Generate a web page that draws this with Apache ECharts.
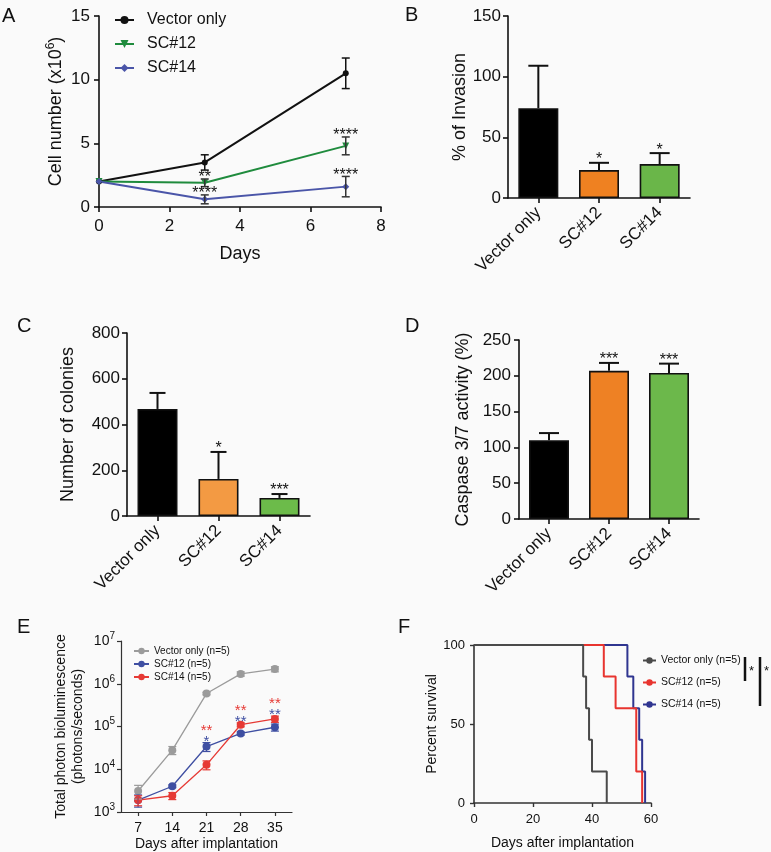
<!DOCTYPE html>
<html><head><meta charset="utf-8">
<script src="https://cdn.jsdelivr.net/npm/echarts@6/dist/echarts.min.js"></script>
<style>html,body{margin:0;padding:0;background:#fafafa}#c{width:771px;height:852px}</style>
</head><body><div id="c"></div>
<script>
// ---------- Panel A: cell growth ----------
const daysA = [0, 3, 7];
const cellVector = [2.0, 3.5, 10.5];
const cellVectorErr = [0, 0.6, 1.2];
const cellSC12 = [2.0, 1.9, 4.8];
const cellSC12Err = [0, 0.3, 0.7];
const cellSC14 = [2.0, 0.6, 1.6];
const cellSC14Err = [0, 0.35, 0.8];
const starsA12 = ['', '**', '****'];
const starsA14 = ['', '****', '****'];
// ---------- Panels B, C, D: bars ----------
const groups = ['Vector only', 'SC#12', 'SC#14'];
const invasion = [74, 23, 28];
const invasionErr = [35, 6, 9];
const invasionStars = ['', '*', '*'];
const colonies = [468, 162, 79];
const coloniesErr = [70, 118, 17];
const coloniesStars = ['', '*', '***'];
const caspase = [110, 207, 204];
const caspaseErr = [10, 11, 13];
const caspaseStars = ['', '***', '***'];
// ---------- Panel E: bioluminescence ----------
const daysE = ['7', '14', '21', '28', '35'];
const bioVector = [3100, 28000, 590000, 1700000, 2200000];
const bioVectorErr = [1100, 6000, 40000, 200000, 300000];
const bioSC12 = [1900, 4000, 34000, 69000, 96000];
const bioSC12Err = [600, 300, 8000, 6000, 18000];
const bioSC14 = [1900, 2400, 12700, 110000, 150000];
const bioSC14Err = [500, 450, 3000, 12000, 25000];
const starsE12 = ['', '', '*', '**', '**'];
const starsE14 = ['', '', '**', '**', '**'];
// ---------- Panel F: survival ----------
const survDaysVector = [0, 37, 38, 39, 40, 45];
const survVector = [100, 80, 60, 40, 20, 0];
const survDaysSC12 = [0, 44, 48, 55, 57];
const survSC12 = [100, 80, 60, 20, 0];
const survDaysSC14 = [0, 52, 54, 56, 57, 58];
const survSC14 = [100, 80, 60, 40, 20, 0];

const FONT = '"Liberation Sans", Arial, Helvetica, sans-serif';
const INK = '#111';
const barColorsB = ['#000000', '#ef8121', '#6ab649'];
const barColorsC = ['#000000', '#f39a43', '#6cbb4a'];
const barColorsD = ['#000000', '#ee8124', '#6cb84b'];

function axisStyle(fs, margin) {
  return {
    axisLine: {show: true, onZero: false, lineStyle: {color: INK, width: 1.6}},
    axisTick: {show: true, length: 5, lineStyle: {color: INK, width: 1.6}},
    splitLine: {show: false},
    axisLabel: {color: INK, fontSize: fs, fontFamily: FONT, margin: margin},
    nameTextStyle: {color: INK, fontSize: fs, fontFamily: FONT}
  };
}
function mk(base, extra) { return Object.assign({}, base, extra); }

function errBars(o) {
  return {
    type: 'custom', xAxisIndex: o.g, yAxisIndex: o.g, z: o.z || 6, silent: true,
    data: o.xs.map((x, i) => [x, o.ys[i], o.errs[i]]),
    renderItem: function (params, api) {
      const i = params.dataIndex;
      const x = api.value(0), y = api.value(1), e = api.value(2);
      const pt = api.coord([x, y + e]);
      const pb = api.coord([x, o.oneSided ? y : y - e]);
      const st = {stroke: o.color, lineWidth: o.lw || 1.5};
      const ch = [];
      if (e > 0) {
        ch.push({type: 'line', shape: {x1: pt[0], y1: pt[1], x2: pb[0], y2: pb[1]}, style: st});
        ch.push({type: 'line', shape: {x1: pt[0] - o.cap / 2, y1: pt[1], x2: pt[0] + o.cap / 2, y2: pt[1]}, style: st});
        if (!o.oneSided) ch.push({type: 'line', shape: {x1: pb[0] - o.cap / 2, y1: pb[1], x2: pb[0] + o.cap / 2, y2: pb[1]}, style: st});
      }
      if (o.stars && o.stars[i]) {
        ch.push({type: 'text', x: pt[0], y: pt[1] - o.starGap,
          style: {text: o.stars[i], align: 'center', verticalAlign: 'middle', fill: o.starColor || INK,
            font: (o.starSize || 16) + 'px ' + FONT}});
      }
      return {type: 'group', children: ch};
    }
  };
}

const grids = [
  {left: 99, top: 16, width: 282, height: 191},
  {left: 508, top: 16, width: 182, height: 182},
  {left: 127, top: 333, width: 183, height: 183},
  {left: 519, top: 340, width: 180, height: 179},
  {left: 121, top: 641, width: 171, height: 172},
  {left: 474, top: 645, width: 177, height: 158}
];

function catAxis(g) {
  return mk(axisStyle(17, 12), {gridIndex: g, type: 'category', data: groups,
    axisTick: {show: true, alignWithLabel: true, length: 5, lineStyle: {color: INK, width: 1.6}},
    axisLabel: {color: INK, fontSize: 17, fontFamily: FONT, rotate: 45, margin: 12, interval: 0}});
}

const xAxes = [
  mk(axisStyle(17, 11), {gridIndex: 0, type: 'value', min: 0, max: 8, interval: 2, name: 'Days', nameLocation: 'middle', nameGap: 38,
    nameTextStyle: {color: INK, fontSize: 18, fontFamily: FONT}}),
  catAxis(1), catAxis(2), catAxis(3),
  mk(axisStyle(14, 9), {gridIndex: 4, type: 'category', data: daysE, boundaryGap: true,
    axisTick: {show: true, alignWithLabel: true, length: 4, lineStyle: {color: '#333', width: 1.2}},
    axisLine: {show: true, lineStyle: {color: '#333', width: 1.2}},
    axisLabel: {color: INK, fontSize: 14, fontFamily: FONT, margin: 9, interval: 0},
    name: 'Days after implantation', nameLocation: 'middle', nameGap: 25, nameTextStyle: {color: INK, fontSize: 14, fontFamily: FONT}}),
  mk(axisStyle(13, 10), {gridIndex: 5, type: 'value', min: 0, max: 60, interval: 20,
    axisLine: {show: true, lineStyle: {color: '#333', width: 1.6}},
    axisTick: {show: true, length: 4, lineStyle: {color: '#333', width: 1.4}},
    name: 'Days after implantation', nameLocation: 'middle', nameGap: 33, nameTextStyle: {color: INK, fontSize: 14, fontFamily: FONT}})
];

const yAxes = [
  mk(axisStyle(17, 9), {gridIndex: 0, type: 'value', min: 0, max: 15, interval: 5,
    name: 'Cell number (x10{s|6})', nameLocation: 'middle', nameGap: 32,
    nameTextStyle: {color: INK, fontSize: 18, fontFamily: FONT, lineHeight: 22, rich: {s: {fontSize: 12, fontFamily: FONT, color: INK, verticalAlign: 'top'}}}}),
  mk(axisStyle(17, 7), {gridIndex: 1, type: 'value', min: 0, max: 150, interval: 50,
    name: '% of Invasion', nameLocation: 'middle', nameGap: 37, nameTextStyle: {color: INK, fontSize: 18, fontFamily: FONT}}),
  mk(axisStyle(17, 7), {gridIndex: 2, type: 'value', min: 0, max: 800, interval: 200,
    name: 'Number of colonies', nameLocation: 'middle', nameGap: 50, nameTextStyle: {color: INK, fontSize: 18, fontFamily: FONT}}),
  mk(axisStyle(17, 8), {gridIndex: 3, type: 'value', min: 0, max: 250, interval: 50,
    name: 'Caspase 3/7 activity (%)', nameLocation: 'middle', nameGap: 47, nameTextStyle: {color: INK, fontSize: 18, fontFamily: FONT}}),
  mk(axisStyle(14, 6), {gridIndex: 4, type: 'log', logBase: 10, min: 1000, max: 10000000,
    axisLine: {show: true, lineStyle: {color: '#333', width: 1.2}},
    axisTick: {show: true, length: 4, lineStyle: {color: '#333', width: 1.2}},
    axisLabel: {color: INK, fontSize: 14, fontFamily: FONT, margin: 6,
      formatter: v => '{b|10}{s|' + Math.round(Math.log10(v)) + '}',
      rich: {b: {fontSize: 14, fontFamily: FONT, color: INK, lineHeight: 20}, s: {fontSize: 10, fontFamily: FONT, color: INK, verticalAlign: 'top'}}},
    name: 'Total photon bioluminescence\n(photons/seconds)', nameLocation: 'middle', nameGap: 34,
    nameTextStyle: {color: INK, fontSize: 14, fontFamily: FONT, lineHeight: 17}}),
  mk(axisStyle(13, 9), {gridIndex: 5, type: 'value', min: 0, max: 100, interval: 50,
    axisLine: {show: true, lineStyle: {color: '#333', width: 1.6}},
    axisTick: {show: true, length: 4, lineStyle: {color: '#333', width: 1.4}},
    name: 'Percent survival', nameLocation: 'middle', nameGap: 29, nameTextStyle: {color: INK, fontSize: 14, fontFamily: FONT}})
];

function lineA(name, ys, color, symbol, rot, size) {
  return {type: 'line', name: name, xAxisIndex: 0, yAxisIndex: 0, data: daysA.map((d, i) => [d, ys[i]]),
    symbol: symbol, symbolRotate: rot, symbolSize: size, showSymbol: true, z: 4,
    lineStyle: {color: color, width: 2}, itemStyle: {color: color}};
}
function barS(g, vals, colors) {
  return {type: 'bar', xAxisIndex: g, yAxisIndex: g, barWidth: 40, z: 3,
    data: vals.map((v, i) => ({value: v, itemStyle: {color: colors[i], borderColor: INK, borderWidth: 1.6}}))};
}
function lineE(name, ys, color) {
  return {type: 'line', name: name, xAxisIndex: 4, yAxisIndex: 4, data: ys, symbol: 'circle', symbolSize: 8, z: 4,
    lineStyle: {color: color, width: 1.3}, itemStyle: {color: color}};
}
function lineF(name, xs, ys, color, z) {
  return {type: 'line', name: name, xAxisIndex: 5, yAxisIndex: 5, data: xs.map((d, i) => [d, ys[i]]),
    step: 'end', symbol: 'none', z: z, lineStyle: {color: color, width: 2}, itemStyle: {color: color}};
}

const cA = {v: '#111111', s12: '#1f8b3d', s14: '#4a55a8'};
const cE = {v: '#9b9b9b', s12: '#3f4fa2', s14: '#e63a35'};
const cF = {v: '#4a4a4a', s12: '#e8342f', s14: '#2f3590'};

const series = [
  lineA('Vector only', cellVector, cA.v, 'circle', 0, 6),
  lineA('SC#12', cellSC12, cA.s12, 'triangle', 180, 7),
  lineA('SC#14', cellSC14, cA.s14, 'diamond', 0, 7),
  errBars({g: 0, xs: daysA, ys: cellVector, errs: cellVectorErr, color: cA.v, cap: 8}),
  errBars({g: 0, xs: daysA, ys: cellSC12, errs: cellSC12Err, color: '#333', cap: 8, stars: starsA12, starGap: 1, starSize: 16}),
  errBars({g: 0, xs: daysA, ys: cellSC14, errs: cellSC14Err, color: '#333', cap: 8, stars: starsA14, starGap: 1, starSize: 16}),
  barS(1, invasion, barColorsB),
  errBars({g: 1, xs: [0, 1, 2], ys: invasion, errs: invasionErr, color: INK, cap: 20, lw: 2, oneSided: true, stars: invasionStars, starGap: 3, z: 2}),
  barS(2, colonies, barColorsC),
  errBars({g: 2, xs: [0, 1, 2], ys: colonies, errs: coloniesErr, color: INK, cap: 16, lw: 2, oneSided: true, stars: coloniesStars, starGap: 3, z: 2}),
  barS(3, caspase, barColorsD),
  errBars({g: 3, xs: [0, 1, 2], ys: caspase, errs: caspaseErr, color: INK, cap: 20, lw: 2, oneSided: true, stars: caspaseStars, starGap: 3, z: 2}),
  lineE('Vector only (n=5)', bioVector, cE.v),
  lineE('SC#12 (n=5)', bioSC12, cE.s12),
  lineE('SC#14 (n=5)', bioSC14, cE.s14),
  errBars({g: 4, xs: [0, 1, 2, 3, 4], ys: bioVector, errs: bioVectorErr, color: cE.v, cap: 8, lw: 1.2}),
  errBars({g: 4, xs: [0, 1, 2, 3, 4], ys: bioSC12, errs: bioSC12Err, color: cE.s12, cap: 8, lw: 1.2}),
  errBars({g: 4, xs: [0, 1, 2, 3, 4], ys: bioSC14, errs: bioSC14Err, color: cE.s14, cap: 8, lw: 1.2}),
  {
    type: 'custom', xAxisIndex: 4, yAxisIndex: 4, z: 7, silent: true,
    data: daysE.map((d, i) => [i, Math.max(bioSC12[i] + bioSC12Err[i], bioSC14[i] + bioSC14Err[i])]),
    renderItem: function (params, api) {
      const i = params.dataIndex;
      const p = api.coord([api.value(0), api.value(1)]);
      const ch = [];
      if (starsE12[i]) ch.push({type: 'text', x: p[0], y: p[1] - 1, style: {text: starsE12[i], align: 'center', verticalAlign: 'middle', fill: cE.s12, font: '15px ' + FONT}});
      if (starsE14[i]) ch.push({type: 'text', x: p[0], y: p[1] - 12, style: {text: starsE14[i], align: 'center', verticalAlign: 'middle', fill: cE.s14, font: '15px ' + FONT}});
      return {type: 'group', children: ch};
    }
  },
  lineF('F:SC#14 (n=5)', survDaysSC14, survSC14, cF.s14, 3),
  lineF('F:SC#12 (n=5)', survDaysSC12, survSC12, cF.s12, 4),
  lineF('F:Vector only (n=5)', survDaysVector, survVector, cF.v, 5)
];

const legends = [
  {orient: 'vertical', left: 114, top: 12, padding: 0, itemWidth: 19, itemHeight: 10, itemGap: 8, selectedMode: false,
    data: ['Vector only', 'SC#12', 'SC#14'],
    textStyle: {color: INK, fontSize: 16, fontFamily: FONT, padding: [0, 0, 0, 8]}},
  {orient: 'vertical', left: 133, top: 646, padding: 0, itemWidth: 15, itemHeight: 8, itemGap: 3, selectedMode: false,
    data: ['Vector only (n=5)', 'SC#12 (n=5)', 'SC#14 (n=5)'],
    textStyle: {color: INK, fontSize: 10, fontFamily: FONT, padding: [0, 0, 0, 0]}},
  {orient: 'vertical', left: 642, top: 655, padding: 0, itemWidth: 13, itemHeight: 8, itemGap: 11, selectedMode: false,
    data: ['F:Vector only (n=5)', 'F:SC#12 (n=5)', 'F:SC#14 (n=5)'],
    formatter: n => n.replace(/^F:/, ''),
    textStyle: {color: INK, fontSize: 10.5, fontFamily: FONT, padding: [0, 0, 0, 0]}}
];

function letter(t, x, y) {
  return {type: 'text', left: x, top: y, style: {text: t, font: '20px ' + FONT, fill: INK}};
}
const graphics = [
  letter('A', 2, 6), letter('B', 405, 5), letter('C', 17, 316), letter('D', 405, 316),
  letter('E', 17, 617), letter('F', 398, 617),
  {type: 'line', shape: {x1: 745, y1: 657, x2: 745, y2: 681}, style: {stroke: INK, lineWidth: 2.5}},
  {type: 'line', shape: {x1: 760, y1: 657, x2: 760, y2: 706}, style: {stroke: INK, lineWidth: 2.5}},
  {type: 'text', x: 749, y: 665, style: {text: '*', font: '13px ' + FONT, fill: INK}},
  {type: 'text', x: 764, y: 665, style: {text: '*', font: '13px ' + FONT, fill: INK}}
];

const chart = echarts.init(document.getElementById('c'), null, {renderer: 'canvas'});
chart.setOption({
  backgroundColor: '#fafafa',
  animation: false,
  textStyle: {fontFamily: FONT},
  grid: grids, xAxis: xAxes, yAxis: yAxes, legend: legends, series: series, graphic: graphics
});
</script></body></html>
